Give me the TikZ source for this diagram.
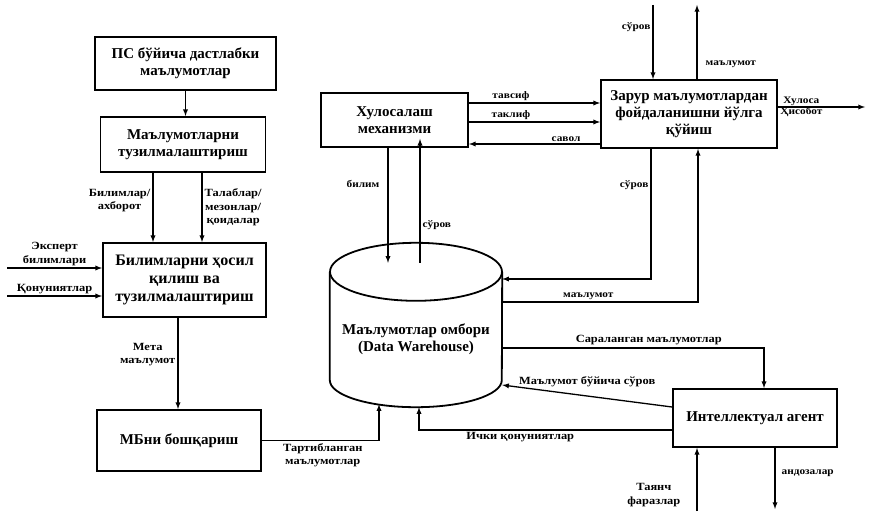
\documentclass[tikz,border=0pt]{standalone}
\usepackage{fontspec}
\setmainfont{Liberation Serif}
\newfontfamily\widefont[FakeStretch=1.13]{Liberation Serif}
\usetikzlibrary{arrows,calc}

\begin{document}
\begin{tikzpicture}[x=1pt,y=-1pt]
\tikzstyle{block} = [rectangle, draw, line width=1.8pt, align=center,
font=\fontsize{15}{17}\selectfont\bfseries, inner sep=2pt]
\tikzstyle{line} = [draw, line width=1.3pt, -latex]
\tikzstyle{lbl} = [font=\widefont\fontsize{11}{13.5}\selectfont\bfseries, align=center, inner sep=2pt]
\tikzstyle{sml} = [font=\widefont\fontsize{10}{11.5}\selectfont\bfseries, inner sep=2pt]

\useasboundingbox (0,0) rectangle (869,511);

% left column
\node [block, minimum width=181, minimum height=53] (init) at (185.5,63.5) {ПС бўйича дастлабки\\маълумотлар};
\node [block, minimum width=165, minimum height=55] (struct) at (183,144.5) {Маълумотларни\\тузилмалаштириш};
\node [block, minimum width=163, minimum height=74, font=\fontsize{16}{18}\selectfont\bfseries] (acquire) at (184.5,280) {Билимларни ҳосил\\қилиш ва\\тузилмалаштириш};
\node [block, minimum width=164, minimum height=61] (dbms) at (179,440.5) {МБни бошқариш};

% middle and right
\node [block, minimum width=147, minimum height=54] (infer) at (394.5,120) {Хулосалаш\\механизми};
\node [block, minimum width=176, minimum height=68] (usage) at (689,114) {Зарур маълумотлардан\\фойдаланишни йўлга\\қўйиш};
\node [block, minimum width=164, minimum height=58] (agent) at (755,418) {Интеллектуал агент};

% data warehouse
\node [minimum width=172, minimum height=135, align=center,
font=\fontsize{15}{17}\selectfont\bfseries] (store) at (416,339.5) {Маълумотлар омбори\\(Data Warehouse)};
\draw [line width=1.8pt] (store.north) ellipse [x radius=86pt, y radius=29pt];
\draw [line width=1.8pt] (store.north west) -- ([yshift=27pt]store.south west)
  arc [start angle=180, end angle=360, x radius=86pt, y radius=27pt] -- (store.north east);

% free ends
\coordinate (expin) at (7,268);
\coordinate (lawin) at (7,296);
\coordinate (reqtop) at (653,5);
\coordinate (datatop) at (697,5);
\coordinate (reportout) at (865,107);
\coordinate (hypin) at (697,511);
\coordinate (patout) at (775,509);

\path [line] (init.south) -- (init.south |- struct.north);
\path [line] ([xshift=-30pt]struct.south) -- node [lbl, left, pos=0.4] {Билимлар/\\ахборот} ([xshift=-30pt]struct.south |- acquire.north);
\path [line] ([xshift=19pt]struct.south) -- node [lbl, right, midway] {Талаблар/\\мезонлар/\\қоидалар} ([xshift=19pt]struct.south |- acquire.north);
\path [line] (expin) -- node [lbl, above, midway] {Эксперт\\билимлари} (expin -| acquire.west);
\path [line] (lawin) -- node [lbl, above, midway, inner sep=1pt] {Қонуниятлар} (lawin -| acquire.west);
\path [line] ([xshift=-6.5pt]acquire.south) -- node [lbl, left, pos=0.4] {Мета\\маълумот} ([xshift=-6.5pt]acquire.south |- dbms.north);
\path [line] (dbms.east) -| node [lbl, below, pos=0.26] {Тартибланган\\маълумотлар} ([xshift=-37pt,yshift=3pt]store.south);

\path [line] ([xshift=-6.5pt]infer.south) -- node [sml, left=6pt, pos=0.31] {билим} ([xshift=-28pt,yshift=9pt]store.north);
\path [line] ([xshift=4pt,yshift=9pt]store.north) -- node [sml, right, pos=0.3] {сўров} ([xshift=4pt,yshift=9pt]store.north |- infer.south);

\path [line] ([yshift=17pt]infer.east) -- node [sml, above, pos=0.32] {тавсиф} ([yshift=17pt]infer.east -| usage.west);
\path [line] ([yshift=-2pt]infer.east) -- node [sml, above, pos=0.32] {таклиф} ([yshift=-2pt]infer.east -| usage.west);
\path [line] ([yshift=-24pt]infer.east -| usage.west) -- node [sml, above, pos=0.26] {савол} ([yshift=-24pt]infer.east);

\path [line] (reqtop) -- node [sml, left, pos=0.3] {сўров} (reqtop |- usage.north);
\path [line] (datatop |- usage.north) -- node [sml, right=6pt, pos=0.2] {маълумот} (datatop);
\path [line] (reportout -| usage.east) -- node [sml, above, pos=0.27, inner sep=1pt] {Хулоса} node [sml, below, pos=0.27, inner sep=0pt] {Ҳисобот} (reportout);

\path [line] ([xshift=-38pt]usage.south) |- node [sml, left, pos=0.14] {сўров} ([yshift=60.5pt]store.east);
\path [line] ([yshift=37.5pt]store.east) -| node [sml, above, pos=0.22] {маълумот} ([xshift=9pt]usage.south);

\path [line] ([yshift=-8.5pt]store.east) -| node [lbl, above, pos=0.28] {Сараланган маълумотлар} ([xshift=9pt]agent.north);
\path [line] ([yshift=11pt]agent.west) -- node [lbl, above=6pt, midway] {Маълумот бўйича сўров} ([yshift=-45.5pt]store.east);
\path [line] ([yshift=-12pt]agent.west) -| node [lbl, below, pos=0.3] {Ички қонуниятлар} ([xshift=3pt]store.south);

\path [line] (hypin) -- node [lbl, left=14pt, pos=0.25] {Таянч\\фаразлар} (hypin |- agent.south);
\path [line] ([xshift=20pt]agent.south) -- node [sml, right=4pt, pos=0.42] {андозалар} (patout);

\end{tikzpicture}
\end{document}
